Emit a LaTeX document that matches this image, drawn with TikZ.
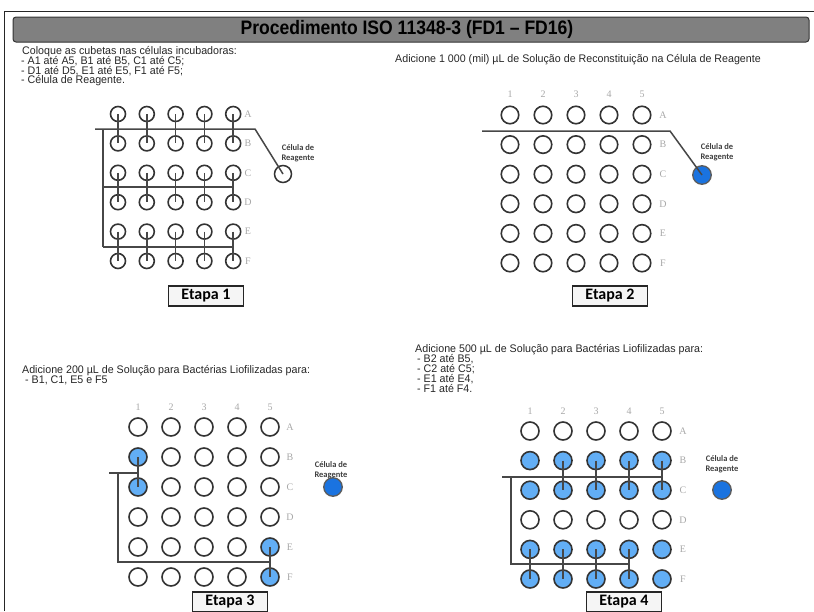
\documentclass[tikz,border=0pt]{standalone}
\usepackage{fontspec}
\setmainfont{Liberation Sans}
\newfontfamily\bodyfont[FakeStretch=0.97]{Liberation Sans}
\newfontfamily\titlefont[FakeStretch=0.9]{Liberation Sans}
\newfontfamily\calfont{Carlito}
\newfontfamily\serfont{Liberation Serif}
\definecolor{lblue}{HTML}{62AEF5}
\definecolor{dblue}{HTML}{1A73E0}
\definecolor{cgray}{HTML}{333333}
\definecolor{lgray}{HTML}{A8A8A8}
\definecolor{bargray}{HTML}{808080}
\tikzset{
 well/.style={circle, draw=cgray, line width=1.6pt, minimum size=18pt, inner sep=0pt},
 mwell/.style={well, minimum size=17.5pt},
 swell/.style={well, minimum size=15pt},
 fwell/.style={well, fill=lblue},
 rwell/.style={circle, draw=cgray!80, line width=1.3pt, fill=dblue, minimum size=18.5pt, inner sep=0pt},
 ewell/.style={circle, draw=cgray, line width=1.5pt, minimum size=17pt, inner sep=0pt},
 pipe/.style={draw=cgray!90, line width=1.5pt},
 rowlab/.style={font=\serfont\fontsize{10}{10}\selectfont, text=lgray, inner sep=0pt},
 txt/.style={font=\bodyfont\fontsize{11}{11}\selectfont, anchor=west, inner sep=0pt, text=black!85, text height=7.5pt, text depth=1.8pt},
 rlab/.style={font=\calfont\bfseries\fontsize{8.5}{10}\selectfont, text=black!75, align=center, inner sep=0pt},
 etapa/.style={draw=black!85, line width=1.6pt, fill=gray!8, minimum width=75pt, minimum height=19.5pt, font=\calfont\bfseries\fontsize{16}{16}\selectfont, inner sep=0pt},
}
\begin{document}
\begin{tikzpicture}[x=1pt,y=-1pt]
\useasboundingbox (0,0) rectangle (814,611);
% frame
\draw[line width=1pt, black!85] (4,611) -- (4,11) -- (814,11);
% title bar
\node[draw=black!80, line width=1pt, fill=bargray, rounded corners=3pt, minimum width=796pt, minimum height=25pt, inner sep=0pt] (title) at (411,29.5) {};
\node[font=\titlefont\bfseries\fontsize{19.5}{19.5}\selectfont, inner sep=0pt] (titletext) at (407,29.5) {Procedimento ISO 11348-3 (FD1 – FD16)};

% ===== Panel 1 =====
\node[txt] (t1a) at (22,51.5) {Coloque as cubetas nas células incubadoras:};
\node[txt] (t1b) at (21,61.5) {- A1 até A5, B1 até B5, C1 até C5;};
\node[txt] (t1c) at (21,71.3) {- D1 até D5, E1 até E5, F1 até F5;};
\node[txt] (t1d) at (21,81) {- Célula de Reagente.};
\foreach \r [count=\j from 0] in {A,B,C,D,E,F}{
  \foreach \c in {1,...,5}{
    \node[swell] (a-\c-\r) at ({118+28.8*(\c-1)},{114+29.4*\j}) {};
  }
  \node[rowlab] (ra-\r) at (248,{114+29.4*\j}) {\r};
}
\node[ewell] (ra-reag) at (283,174) {};
\node[rlab] (ra-lab) at (298,153) {Célula de\\Reagente};
\coordinate (a-h1s) at (95,129);
\coordinate (a-h1e) at (255,129);
\coordinate (a-v0) at (103,129);
\coordinate (a-v1) at (103,187);
\coordinate (a-v2) at (103,247);
\draw[pipe] (a-h1s) -- (a-h1e) -- (ra-reag.center);
\draw[pipe] (a-v0) -- (a-v2);
\draw[pipe] (a-v1) -- (a-5-C.center |- a-v1);
\draw[pipe] (a-v2) -- (a-5-E.center |- a-v2);
\foreach \c in {1,...,5}{
  \draw[pipe] (a-\c-A.center) -- (a-\c-B.center);
  \draw[pipe] (a-\c-C.center) -- (a-\c-D.center);
  \draw[pipe] (a-\c-E.center) -- (a-\c-F.center);
}
\node[etapa] (e1) at (206,296) {Etapa 1};

% ===== Panel 2 =====
\node[txt] (t2a) at (395,60) {Adicione 1 000 (mil) µL de Solução de Reconstituição na Célula de Reagente};
\foreach \c in {1,...,5}{
  \node[rowlab] (cb-\c) at ({510+33*(\c-1)},94) {\c};
}
\foreach \r [count=\j from 0] in {A,B,C,D,E,F}{
  \foreach \c in {1,...,5}{
    \node[mwell] (b-\c-\r) at ({510+33*(\c-1)},{115+29.6*\j}) {};
  }
  \node[rowlab] (rb-\r) at (663,{115+29.6*\j}) {\r};
}
\node[rlab] (rb-lab) at (717,152) {Célula de\\Reagente};
\node[rwell] (rb-reag) at (702,175) {};
\coordinate (b-h1s) at (482,131);
\coordinate (b-h1e) at (670,131);
\draw[pipe] (b-h1s) -- (b-h1e) -- (rb-reag.center);
\node[etapa] (e2) at (610,296) {Etapa 2};

% ===== Panel 3 =====
\node[txt] (t3a) at (22,371) {Adicione 200 µL de Solução para Bactérias Liofilizadas para:};
\node[txt] (t3b) at (25,381) {- B1, C1, E5 e F5};
\foreach \c in {1,...,5}{
  \node[rowlab] (cc-\c) at ({138+33*(\c-1)},407) {\c};
}
\foreach \r/\sa/\se [count=\j from 0] in {A/well/well,B/fwell/well,C/fwell/well,D/well/well,E/well/fwell,F/well/fwell}{
  \foreach \c in {1,...,5}{
    \ifnum\c=1 \def\st{\sa}\else\ifnum\c=5 \def\st{\se}\else\def\st{well}\fi\fi
    \node[style=\st] (c-\c-\r) at ({138+33*(\c-1)},{427+30*\j}) {};
  }
  \node[rowlab] (rc-\r) at (290,{427+30*\j}) {\r};
}
\node[rlab] (rc-lab) at (331,470) {Célula de\\Reagente};
\node[rwell] (rc-reag) at (333,487) {};
\coordinate (c-h1s) at (109,473);
\coordinate (c-v0) at (118,473);
\coordinate (c-v1) at (118,562);
\draw[pipe] (c-1-B.center) -- (c-1-C.center);
\draw[pipe] (c-h1s) -- (c-1-B.center |- c-h1s);
\draw[pipe] (c-v0) -- (c-v1) -- (c-5-E.center |- c-v1);
\draw[pipe] (c-5-E.center) -- (c-5-F.center);
\node[etapa] (e3) at (230,602) {Etapa 3};

% ===== Panel 4 =====
\node[txt] (t4a) at (415,350) {Adicione 500 µL de Solução para Bactérias Liofilizadas para:};
\node[txt] (t4b) at (417,360) {- B2 até B5,};
\node[txt] (t4c) at (417,370) {- C2 até C5;};
\node[txt] (t4d) at (417,380) {- E1 até E4,};
\node[txt] (t4e) at (417,390) {- F1 até F4.};
\foreach \c in {1,...,5}{
  \node[rowlab] (cd-\c) at ({530+33*(\c-1)},411) {\c};
}
\foreach \r/\s [count=\j from 0] in {A/well,B/fwell,C/fwell,D/well,E/fwell,F/fwell}{
  \foreach \c in {1,...,5}{
    \node[style=\s] (d-\c-\r) at ({530+33*(\c-1)},{431+29.6*\j}) {};
  }
  \node[rowlab] (rd-\r) at (683,{431+29.6*\j}) {\r};
}
\node[rlab] (rd-lab) at (722,464) {Célula de\\Reagente};
\node[rwell] (rd-reag) at (722,490) {};
\coordinate (d-h1s) at (502,477);
\coordinate (d-v0) at (511,477);
\coordinate (d-v1) at (511,564);
\draw[pipe] (d-h1s) -- (d-5-B.center |- d-h1s);
\draw[pipe] (d-v0) -- (d-v1) -- (d-4-E.center |- d-v1);
\foreach \c in {2,...,5}{
  \draw[pipe] (d-\c-B.center) -- (d-\c-C.center);
}
\foreach \c in {1,...,4}{
  \draw[pipe] (d-\c-E.center) -- (d-\c-F.center);
}
\node[etapa] (e4) at (624,602) {Etapa 4};
\end{tikzpicture}
\end{document}
